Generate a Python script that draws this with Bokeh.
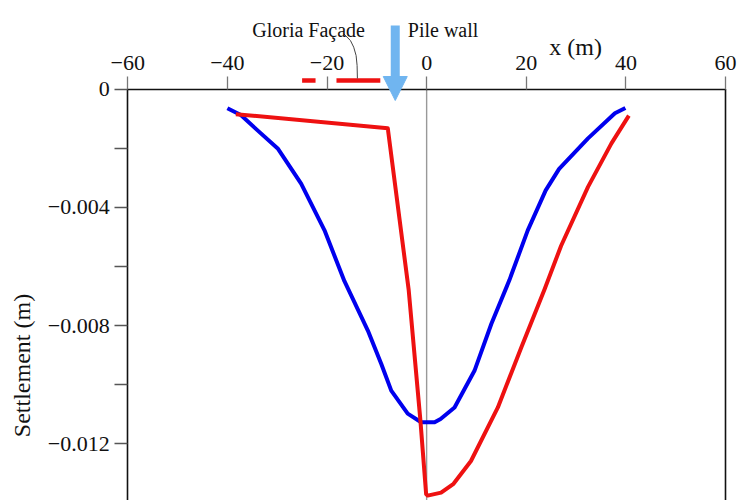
import math
from bokeh.plotting import figure
from bokeh.models import (LinearAxis, FixedTicker, CustomJSTickFormatter, Range1d,
                          Label, Arrow, NormalHead)
from bokeh.embed import file_html
from bokeh.resources import INLINE

# ---------------- data ----------------
blue_x = [-40.0, -37.3, -34.0, -29.9, -25.2, -20.5, -16.5, -11.8, -9.1, -7.1, -3.8, -1.1,
          1.6, 2.8, 5.6, 9.6, 13.0, 16.6, 20.3, 23.9, 26.6, 32.4, 37.8, 39.9]
blue_y = [-0.00065, -0.00088, -0.00139, -0.00201, -0.00320, -0.00478, -0.00650, -0.00817,
          -0.00930, -0.01020, -0.01098, -0.01127, -0.01127, -0.01116, -0.01077, -0.00953,
          -0.00794, -0.00647, -0.00478, -0.00343, -0.00270, -0.00167, -0.00082, -0.00064]

red_x = [-38.3, -7.8, -3.6, -1.25, -0.1, 0.2, 2.9, 5.4, 8.9, 14.3, 19.0, 23.7, 27.0,
         32.4, 37.1, 40.6]
red_y = [-0.00085, -0.00133, -0.00680, -0.01121, -0.01370, -0.01375, -0.01365, -0.01335,
         -0.01258, -0.01077, -0.00874, -0.00676, -0.00530, -0.00331, -0.00184, -0.00090]

facade_x0 = [-25.0, -18.1]
facade_x1 = [-22.3, -9.3]
facade_level = 0.000287
pile_wall_x = -6.3

callout_x = [-16.65, -15.3, -14.64, -14.16, -13.96, -13.9]
callout_y = [0.001867, 0.001640, 0.001414, 0.001133, 0.000795, 0.000355]

x_ticks = [-60, -40, -20, 0, 20, 40, 60]
y_ticks = [0, -0.004, -0.008, -0.012]
y_minor = [-0.002, -0.006, -0.010, -0.014]

X_START, X_END = -85.55, 62.61
Y_START, Y_END = -0.013916, 0.002993
FONT = "Liberation Serif"
BLUE = "#0000ee"
RED = "#ee1111"
ARROW_C = "#70b5f0"
INK = "#111111"

p = figure(width=738, height=500, output_backend="svg", toolbar_location=None,
           x_range=Range1d(X_START, X_END), y_range=Range1d(Y_START, Y_END),
           x_axis_location=None, y_axis_location=None,
           min_border_left=0, min_border_right=0, min_border_top=0, min_border_bottom=0)
p.outline_line_color = None
p.background_fill_color = "white"
for g in p.grid:
    g.visible = False

# top x axis sitting at y = 0
xaxis = LinearAxis(fixed_location=y_ticks[0], bounds=(x_ticks[0], x_ticks[-1]),
                   ticker=FixedTicker(ticks=x_ticks),
                   formatter=CustomJSTickFormatter(
                       code="return tick < 0 ? '\u2212' + Math.abs(tick) : String(tick);"),
                   major_tick_out=13, major_tick_in=0,
                   minor_tick_line_color=None,
                   axis_line_color=INK, axis_line_width=1.6,
                   major_tick_line_color="#777777", major_tick_line_width=1.3,
                   major_label_text_font=FONT, major_label_text_font_size="22px",
                   major_label_text_color=INK, major_label_standoff=6)
p.add_layout(xaxis, "above")

# left y axis sitting at x = -60
yaxis = LinearAxis(fixed_location=x_ticks[0], bounds=(Y_START, y_ticks[0]),
                   ticker=FixedTicker(ticks=y_ticks, minor_ticks=y_minor),
                   formatter=CustomJSTickFormatter(
                       code="if (tick == 0) return '0'; return (tick < 0 ? '\u2212' : '') + Math.abs(tick).toFixed(3);"),
                   major_tick_out=13, major_tick_in=0, minor_tick_out=13, minor_tick_in=0,
                   axis_line_color=INK, axis_line_width=1.6,
                   major_tick_line_color="#555555", major_tick_line_width=1.3,
                   minor_tick_line_color="#555555", minor_tick_line_width=1.3,
                   major_label_text_font=FONT, major_label_text_font_size="22px",
                   major_label_text_color=INK, major_label_standoff=5)
p.add_layout(yaxis, "left")

# right frame line and zero line
p.segment(x0=[x_ticks[-1]], y0=[y_ticks[0]], x1=[x_ticks[-1]], y1=[Y_START],
          line_color=INK, line_width=1.6)
p.segment(x0=[x_ticks[3]], y0=[y_ticks[0]], x1=[x_ticks[3]], y1=[Y_START],
          line_color="#999999", line_width=1.4)

# curves
p.line(blue_x, blue_y, line_color=BLUE, line_width=4, line_join="round")
p.line(red_x, red_y, line_color=RED, line_width=4, line_join="round")

# facade marks and callout
p.segment(x0=facade_x0, y0=[facade_level] * 2, x1=facade_x1, y1=[facade_level] * 2,
          line_color=RED, line_width=4.5)
p.line(callout_x, callout_y, line_color="#444444", line_width=1)

# pile wall arrow
p.add_layout(Arrow(end=NormalHead(size=24, fill_color=ARROW_C, line_color=ARROW_C),
                   x_start=pile_wall_x, y_start=0.002147, x_end=pile_wall_x, y_end=-0.000389,
                   line_color=ARROW_C, line_width=9))

# texts
p.add_layout(Label(x=-23.7, y=0.002002, text="Gloria Façade", text_font=FONT,
                   text_font_size="20px", text_align="center", text_baseline="alphabetic",
                   text_color=INK))
p.add_layout(Label(x=3.3, y=0.002002, text="Pile wall", text_font=FONT,
                   text_font_size="20px", text_align="center", text_baseline="alphabetic",
                   text_color=INK))
p.add_layout(Label(x=29.9, y=0.001414, text="x (m)", text_font=FONT,
                   text_font_size="24px", text_align="center", text_baseline="alphabetic",
                   text_color=INK))
p.add_layout(Label(x=-81.3, y=-0.00935, text="Settlement (m)", text_font=FONT,
                   text_font_size="24px", text_align="center", text_baseline="middle",
                   angle=math.pi / 2, text_color=INK))

open("out.html", "w").write(file_html(p, INLINE))
